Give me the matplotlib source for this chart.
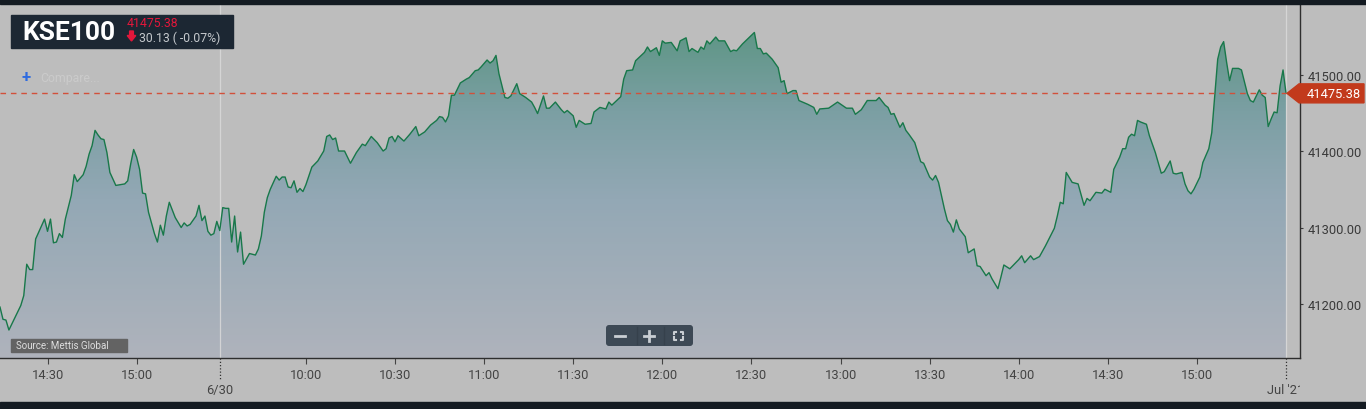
"""KSE100 intraday area chart (two sessions, ordinal time axis)."""

import numpy as np
import matplotlib
matplotlib.use("Agg")
import matplotlib.pyplot as plt
from matplotlib.colors import LinearSegmentedColormap
from matplotlib.patches import Rectangle, Polygon, FancyBboxPatch
from matplotlib.transforms import blended_transform_factory, Bbox, IdentityTransform
from matplotlib.lines import Line2D

# ---- data -------------------------------------------------------------
index_name = "KSE100"
source_text = "Source: Mettis Global"
last_price = 41475.38
change = 30.13
change_pct = -0.07

day1_times = ["14:14", "14:15", "14:16", "14:17", "14:21", "14:22", "14:23", "14:24",
              "14:25", "14:26", "14:29", "14:30", "14:31", "14:32", "14:33", "14:34",
              "14:35", "14:36", "14:38", "14:39", "14:40", "14:42", "14:43", "14:44",
              "14:45", "14:46", "14:47", "14:48", "14:49", "14:50", "14:51", "14:53",
              "14:56", "14:57", "14:58", "14:59", "15:00", "15:01", "15:02", "15:03",
              "15:04", "15:06", "15:07", "15:08", "15:09", "15:10", "15:11", "15:12",
              "15:13", "15:15", "15:16", "15:17", "15:18", "15:20", "15:21", "15:22",
              "15:23", "15:24", "15:25", "15:26", "15:27"]
day1_values = [41196, 41180, 41179, 41166, 41198, 41211, 41252, 41245,
               41245, 41285, 41311, 41295, 41311, 41280, 41281, 41292,
               41287, 41311, 41342, 41369, 41360, 41369, 41380, 41396,
               41407, 41427, 41421, 41416, 41415, 41398, 41372, 41355,
               41357, 41361, 41383, 41402, 41392, 41376, 41345, 41344,
               41320, 41292, 41281, 41303, 41290, 41315, 41333, 41323,
               41313, 41300, 41306, 41302, 41304, 41315, 41329, 41309,
               41315, 41295, 41290, 41292, 41308]

day2_times = ["09:31", "09:32", "09:33", "09:34", "09:35", "09:36", "09:37", "09:38",
              "09:39", "09:40", "09:41", "09:43", "09:44", "09:45", "09:46", "09:47",
              "09:48", "09:50", "09:51", "09:52", "09:53", "09:54", "09:55", "09:56",
              "09:57", "09:58", "09:59", "10:00", "10:02", "10:04", "10:06", "10:07",
              "10:08", "10:09", "10:10", "10:11", "10:13", "10:15", "10:17", "10:19",
              "10:20", "10:22", "10:24", "10:26", "10:27", "10:28", "10:29", "10:30",
              "10:31", "10:33", "10:35", "10:37", "10:38", "10:40", "10:42", "10:44",
              "10:45", "10:46", "10:47", "10:48", "10:49", "10:50", "10:52", "10:54",
              "10:55", "10:57", "10:58", "10:59", "11:01", "11:02", "11:03", "11:04",
              "11:05", "11:07", "11:08", "11:09", "11:11", "11:12", "11:14", "11:16",
              "11:17", "11:18", "11:20", "11:21", "11:22", "11:24", "11:26", "11:27",
              "11:28", "11:30", "11:31", "11:32", "11:34", "11:36", "11:37", "11:39",
              "11:41", "11:42", "11:43", "11:46", "11:47", "11:48", "11:50", "11:51",
              "11:54", "11:55", "11:56", "11:58", "11:59", "12:00", "12:01", "12:03",
              "12:05", "12:06", "12:08", "12:09", "12:10", "12:12", "12:13", "12:14",
              "12:15", "12:16", "12:18", "12:19", "12:21", "12:23", "12:24", "12:25",
              "12:27", "12:31", "12:32", "12:33", "12:34", "12:35", "12:37", "12:39",
              "12:40", "12:41", "12:42", "12:44", "12:45", "12:46", "12:49", "12:51",
              "12:52", "12:53", "12:56", "12:59", "13:02", "13:04", "13:05", "13:07",
              "13:09", "13:12", "13:13", "13:15", "13:16", "13:17", "13:18", "13:20",
              "13:21", "13:22", "13:23", "13:25", "13:27", "13:28", "13:30", "13:31",
              "13:32", "13:33", "13:35", "13:36", "13:37", "13:38", "13:39", "13:40",
              "13:42", "13:43", "13:45", "13:46", "13:47", "13:49", "13:50", "13:51",
              "13:53", "13:54", "13:55", "13:57", "13:59", "14:00", "14:01", "14:02",
              "14:04", "14:05", "14:07", "14:09", "14:12", "14:13", "14:14", "14:15",
              "14:16", "14:18", "14:19", "14:20", "14:22", "14:23", "14:24", "14:26",
              "14:28", "14:29", "14:31", "14:32", "14:34", "14:35", "14:36", "14:37",
              "14:38", "14:39", "14:40", "14:41", "14:43", "14:44", "14:46", "14:48",
              "14:49", "14:51", "14:52", "14:53", "14:55", "14:56", "14:57", "14:58",
              "14:59", "15:01", "15:02", "15:04", "15:05", "15:07", "15:08", "15:09",
              "15:10", "15:11", "15:12", "15:14", "15:15", "15:17", "15:18", "15:19",
              "15:21", "15:22", "15:23", "15:24", "15:25", "15:26", "15:27", "15:28",
              "15:29", "15:30"]
day2_values = [41296, 41326, 41325, 41325, 41281, 41315, 41268, 41294,
               41252, 41259, 41266, 41264, 41272, 41289, 41320, 41339,
               41350, 41367, 41362, 41366, 41366, 41353, 41352, 41361,
               41346, 41351, 41347, 41356, 41379, 41387, 41400, 41419,
               41421, 41415, 41417, 41400, 41400, 41384, 41398, 41409,
               41407, 41419, 41411, 41400, 41403, 41417, 41419, 41412,
               41420, 41413, 41422, 41432, 41420, 41425, 41434, 41440,
               41445, 41444, 41438, 41446, 41473, 41473, 41489, 41494,
               41496, 41505, 41506, 41510, 41519, 41515, 41518, 41525,
               41501, 41470, 41469, 41472, 41488, 41475, 41470, 41464,
               41457, 41449, 41472, 41456, 41456, 41464, 41454, 41450,
               41453, 41446, 41431, 41440, 41435, 41436, 41451, 41457,
               41455, 41464, 41460, 41471, 41494, 41505, 41506, 41518,
               41529, 41536, 41530, 41535, 41525, 41544, 41541, 41542,
               41531, 41544, 41548, 41530, 41534, 41529, 41536, 41533,
               41544, 41540, 41549, 41544, 41544, 41530, 41532, 41531,
               41540, 41555, 41534, 41534, 41527, 41528, 41520, 41509,
               41490, 41492, 41475, 41479, 41479, 41466, 41461, 41457,
               41448, 41455, 41456, 41464, 41456, 41456, 41448, 41454,
               41466, 41466, 41470, 41460, 41457, 41448, 41449, 41431,
               41437, 41427, 41422, 41411, 41386, 41384, 41366, 41362,
               41368, 41359, 41324, 41309, 41304, 41294, 41310, 41298,
               41288, 41267, 41272, 41250, 41249, 41237, 41241, 41233,
               41220, 41235, 41251, 41246, 41254, 41258, 41263, 41254,
               41263, 41258, 41262, 41276, 41299, 41315, 41333, 41331,
               41372, 41359, 41358, 41357, 41329, 41338, 41335, 41346,
               41345, 41350, 41346, 41376, 41392, 41403, 41403, 41418,
               41422, 41420, 41440, 41438, 41435, 41420, 41398, 41371,
               41373, 41387, 41371, 41370, 41372, 41357, 41348, 41344,
               41350, 41366, 41385, 41403, 41424, 41520, 41536, 41543,
               41516, 41492, 41508, 41508, 41506, 41475, 41466, 41464,
               41480, 41473, 41470, 41432, 41442, 41451, 41450, 41485,
               41506, 41475.38]

day1_ticks = ["14:30", "15:00"]
day2_ticks = ["10:00", "10:30", "11:00", "11:30", "12:00", "12:30", "13:00",
              "13:30", "14:00", "14:30", "15:00"]
day2_label = "6/30"
next_day_label = "Jul '21"
y_ticks = [41200, 41300, 41400, 41500]

# ---- layout / style ---------------------------------------------------
W, H = 1366, 410
PX_PER_MIN = 2.97
BG = "#bdbdbd"
DARK = "#141b22"
FONT = "Roboto"


def minutes(hhmm):
    h, m = hhmm.split(":")
    return int(h) * 60 + int(m)


# ordinal axis: the overnight gap is dropped
DAY2_OFFSET = minutes(day1_times[-1]) - minutes(day1_times[0]) + 1


def pos1(t):
    return minutes(t) - minutes(day1_times[0])


def pos2(t):
    return DAY2_OFFSET + minutes(t) - minutes(day2_times[0])


def py(y):
    """Pixel row (from top) -> display y."""
    return H - y


x = np.array([pos1(t) for t in day1_times] + [pos2(t) for t in day2_times], float)
y = np.array(day1_values + day2_values, float)

fig = plt.figure(figsize=(W / 100, H / 100), dpi=100, facecolor=BG)
ax = fig.add_axes([0, (H - 359) / H, 1300 / W, (359 - 5) / H])
ax.set_facecolor(BG)

x_max = 1300 / PX_PER_MIN
y_lo, y_hi = 41129.4, 41592.2

# gradient area under the line
cmap = LinearSegmentedColormap.from_list(
    "kse", [(0.0, "#afb3bc"), (0.45, "#93a8b5"), (0.7, "#7b9fa3"), (1.0, "#55937c")])
grad = np.linspace(0, 1, 256).reshape(-1, 1)
im = ax.imshow(grad, extent=[0, x_max, y_lo, y_hi], origin="lower",
               aspect="auto", cmap=cmap, zorder=1, interpolation="bilinear")
area = ax.fill_between(x, y, y_lo, facecolor="none", edgecolor="none")
im.set_clip_path(area.get_paths()[0], transform=ax.transData)

# day boundary lines
for xb in (pos2(day2_times[0]), x[-1]):
    ax.axvline(xb, color="#dadada", lw=0.9, zorder=2, alpha=0.85)

ax.plot(x, y, color="#18784a", lw=1.0, zorder=3)
ax.hlines(last_price, 0, x[-1], colors="#d2503a", lw=1.0,
          linestyles=(0, (4, 3.5)), zorder=4)

ax.set_xlim(0, x_max)
ax.set_ylim(y_lo, y_hi)

for s in ("top", "left"):
    ax.spines[s].set_visible(False)
for s in ("right", "bottom"):
    ax.spines[s].set_color("#2e2e2e")
    ax.spines[s].set_linewidth(1.0)

ax.yaxis.tick_right()
ax.set_yticks(y_ticks, [f"{v:.2f}" for v in y_ticks])
ax.tick_params(axis="y", length=2.5, width=0.8, pad=3, colors="#3a3a3a",
               labelsize=9.3)
xt = [pos1(t) for t in day1_ticks] + [pos2(t) for t in day2_ticks]
ax.set_xticks(xt, day1_ticks + day2_ticks)
ax.tick_params(axis="x", length=4, width=0.8, pad=3.5, colors="#444444",
               labelsize=9.3)
for lab in ax.get_xticklabels() + ax.get_yticklabels():
    lab.set_family(FONT)

# dotted day ticks with date labels on a second row (last one cut at the plot edge)
trans = blended_transform_factory(ax.transData, ax.transAxes)
for xd, lab, ha, dx in ((pos2(day2_times[0]), day2_label, "center", 0),
                        (x[-1], next_day_label, "left", -19)):
    ax.add_line(Line2D([xd, xd], [0, -22 / 354], transform=trans, color="#333333",
                       lw=0.9, ls=(0, (1, 1.6)), clip_on=False))
    xd_px = ax.transData.transform((xd, y_lo))[0]
    t = fig.text(xd_px + dx, py(391), lab, transform=IdentityTransform(),
                 ha=ha, va="center", fontsize=9.3, color="#444444",
                 family=FONT)
    t.set_clip_box(Bbox([[0, 0], [1300, H]]))
    t.set_clip_on(True)

# dark bands top and bottom
fig.patches.append(Rectangle((0, py(5)), W, 5, transform=IdentityTransform(),
                             color=DARK, zorder=0))
fig.patches.append(Rectangle((0, 0), W, 7, transform=IdentityTransform(),
                             color=DARK, zorder=0))

# title box
fig.patches.append(Rectangle((11, py(49)), 222, 33, transform=IdentityTransform(),
                             color="#1c2733", zorder=5))
fig.text(22, py(33), index_name, transform=IdentityTransform(), fontsize=19,
         weight="bold", color="white", va="center", family=FONT, zorder=6)
fig.text(127, py(23.5), f"{last_price:.2f}", transform=IdentityTransform(),
         fontsize=8.8, color="#e3173b", va="center", family=FONT, zorder=6)
arrow = [(129.6, 32), (133.4, 32), (133.4, 36.5), (135.8, 36.5), (131.5, 42),
         (127.2, 36.5), (129.6, 36.5)]
fig.patches.append(Polygon([(a, py(b)) for a, b in arrow], closed=True,
                           transform=IdentityTransform(), color="#e3173b", zorder=6))
fig.text(139, py(38), f"{change:.2f} ( {change_pct:.2f}%)", transform=IdentityTransform(),
         fontsize=8.8, color="#c4c8cc", va="center", family=FONT, zorder=6)

# compare link
fig.text(21, py(78), "+", transform=IdentityTransform(), fontsize=12,
         weight="bold", color="#2e6be0", va="center", family=FONT)
fig.text(40, py(79), "Compare...", transform=IdentityTransform(), fontsize=8.8,
         color="#cbcbcb", va="center", family=FONT)

# source tag
fig.patches.append(Rectangle((11, py(352.5)), 116, 12.5, transform=IdentityTransform(),
                             color="#636363", zorder=5))
fig.text(16, py(346.5), source_text, transform=IdentityTransform(), fontsize=7,
         color="#dedede", va="center", family=FONT, zorder=6)

# zoom buttons
fig.patches.append(FancyBboxPatch((606, py(347)), 87, 21, transform=IdentityTransform(),
                                  boxstyle="round,pad=0,rounding_size=3",
                                  facecolor="#3d4955", edgecolor="none", zorder=5))
for sep in (636.5, 663.5):
    fig.lines.append(Line2D([sep, sep], [py(328), py(345)], transform=IdentityTransform(),
                            color="#36414c", lw=1, zorder=6))
ic = dict(transform=IdentityTransform(), color="#c9ced3", lw=2.0, zorder=6)
fig.lines.append(Line2D([615, 625], [py(336.5)] * 2, **ic))
fig.lines.append(Line2D([644, 654], [py(336.5)] * 2, **ic))
fig.lines.append(Line2D([649, 649], [py(331.5), py(341.5)], **ic))
ic["lw"] = 1.5
for cx, cy, dx, dy in ((673.5, 333, 1, 1), (683, 333, -1, 1),
                       (673.5, 340.5, 1, -1), (683, 340.5, -1, -1)):
    fig.lines.append(Line2D([cx + 2.5 * dx, cx, cx], [py(cy), py(cy), py(cy + 2.2 * dy)], **ic))

# last price tag on the right axis
yl = ax.transData.transform((0, last_price))[1]
xl = ax.transData.transform((x[-1], last_price))[0]
tag = [(xl + 1, yl), (xl + 13, yl + 9.5), (W - 2, yl + 9.5), (W - 2, yl - 9.5),
       (xl + 13, yl - 9.5)]
fig.patches.append(Polygon(tag, closed=True, transform=IdentityTransform(),
                           color="#c23a1c", zorder=5))
fig.text(1307, yl, f"{last_price:.2f}", transform=IdentityTransform(), fontsize=9.3,
         color="white", va="center", family=FONT, zorder=6)

fig.savefig("out.png", dpi=100, facecolor=BG)
